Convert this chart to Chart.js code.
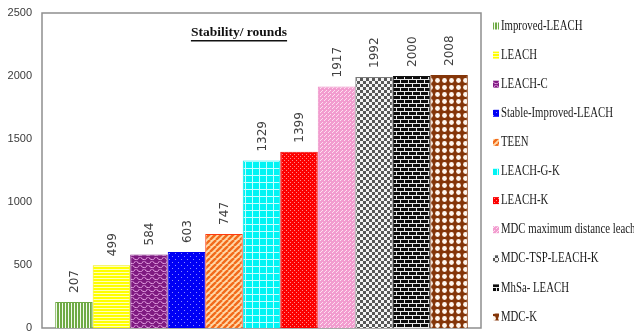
<!DOCTYPE html>
<html>
<head>
<meta charset="utf-8">
<script src="https://cdn.jsdelivr.net/npm/chart.js@4/dist/chart.umd.min.js"></script>
<style>
  html, body { margin: 0; padding: 0; background: #ffffff; }
  #wrap { width: 634px; height: 336px; position: relative; }
</style>
</head>
<body>
<div id="wrap"><canvas id="c" width="634" height="336"></canvas></div>
<script>
// Protocols compared
const categories = [
  'Improved-LEACH', 'LEACH', 'LEACH-C', 'Stable-Improved-LEACH', 'TEEN',
  'LEACH-G-K', 'LEACH-K', 'MDC maximum distance leach', 'MDC-TSP-LEACH-K',
  'MhSa- LEACH', 'MDC-K'
];
// Stability period, in rounds
const rounds = [207, 499, 584, 603, 747, 1329, 1399, 1917, 1992, 2000, 2008];
// Y axis tick labels
const yTicks = [0, 500, 1000, 1500, 2000, 2500];
const chartTitle = 'Stability/ rounds';

// ---- fill patterns -------------------------------------------------------
function tile(w, h, draw) {
  const cv = document.createElement('canvas');
  cv.width = w; cv.height = h;
  const g = cv.getContext('2d');
  draw(g, w, h);
  return document.getElementById('c').getContext('2d').createPattern(cv, 'repeat');
}

const patterns = [
  // vertical green lines
  tile(3, 3, (g) => { g.fillStyle = '#f4fbef'; g.fillRect(0, 0, 3, 3); g.fillStyle = '#6faa45'; g.fillRect(0, 0, 2, 3); }),
  // yellow with pale horizontal lines
  tile(3, 3, (g) => { g.fillStyle = '#ffff00'; g.fillRect(0, 0, 3, 3); g.fillStyle = '#ffffb8'; g.fillRect(0, 2, 3, 1); }),
  // purple scales
  tile(8, 8, (g) => {
    g.fillStyle = '#7e1a80'; g.fillRect(0, 0, 8, 8);
    g.strokeStyle = '#e9a6e6'; g.lineWidth = 1;
    g.beginPath(); g.arc(4, 4, 3.5, Math.PI * 0.1, Math.PI * 0.9); g.stroke();
    g.beginPath(); g.arc(0, 8, 3.5, Math.PI * 0.1, Math.PI * 0.9); g.stroke();
    g.beginPath(); g.arc(8, 8, 3.5, Math.PI * 0.1, Math.PI * 0.9); g.stroke();
    g.beginPath(); g.arc(0, 0, 3.5, Math.PI * 0.1, Math.PI * 0.9); g.stroke();
    g.beginPath(); g.arc(8, 0, 3.5, Math.PI * 0.1, Math.PI * 0.9); g.stroke();
  }),
  // blue with sparse light dots
  tile(6, 6, (g) => { g.fillStyle = '#0000f5'; g.fillRect(0, 0, 6, 6); g.fillStyle = '#8c8cff'; g.fillRect(1, 1, 1, 1); g.fillRect(4, 4, 1, 1); }),
  // orange diagonal stripes
  tile(6, 6, (g) => {
    g.fillStyle = '#ffd9a8'; g.fillRect(0, 0, 6, 6);
    g.strokeStyle = '#f26a1b'; g.lineWidth = 2.4;
    for (let k = -6; k <= 12; k += 6) { g.beginPath(); g.moveTo(k, 6); g.lineTo(k + 6, 0); g.stroke(); }
  }),
  // cyan grid
  tile(7, 7, (g) => { g.fillStyle = '#00f4f4'; g.fillRect(0, 0, 7, 7); g.fillStyle = '#c4ffff'; g.fillRect(0, 0, 7, 1); g.fillRect(0, 0, 1, 7); }),
  // red with dense dots
  tile(4, 4, (g) => { g.fillStyle = '#fc0000'; g.fillRect(0, 0, 4, 4); g.fillStyle = '#ff8a8a'; g.fillRect(0, 0, 1, 1); g.fillRect(2, 2, 1, 1); }),
  // pink with white flecks
  tile(4, 4, (g) => { g.fillStyle = '#f29ccf'; g.fillRect(0, 0, 4, 4); g.fillStyle = '#fde0f0'; g.fillRect(0, 0, 1, 1); g.fillRect(2, 2, 1, 1); g.fillRect(1, 3, 1, 1); }),
  // gray checkerboard
  tile(6, 6, (g) => { g.fillStyle = '#f4f4f4'; g.fillRect(0, 0, 6, 6); g.fillStyle = '#575757'; g.fillRect(0, 0, 3, 3); g.fillRect(3, 3, 3, 3); }),
  // black bricks
  tile(8, 8, (g) => {
    g.fillStyle = '#0c0c0c'; g.fillRect(0, 0, 8, 8);
    g.fillStyle = '#e8e8e8';
    g.fillRect(0, 3, 8, 1); g.fillRect(0, 7, 8, 1);
    g.fillRect(0, 0, 1, 3); g.fillRect(4, 4, 1, 3);
  }),
  // brown with white dots
  tile(7, 7, (g) => {
    g.fillStyle = '#843508'; g.fillRect(0, 0, 7, 7);
    g.fillStyle = '#fff6ee'; g.beginPath(); g.arc(3.5, 3.5, 2.4, 0, Math.PI * 2); g.fill();
  })
];
const edgeColors = ['#6faa45', '#f0f000', '#7e1a80', '#0000f0', '#ff3a10', '#00e8e8',
                    '#f00000', '#ef8fc8', '#7a7a7a', '#111111', '#843508'];

// ---- plugins ---------------------------------------------------------------
const frame = {
  id: 'frame',
  beforeDatasetsDraw(chart) {
    const { ctx, chartArea: a } = chart;
    ctx.save();
    ctx.strokeStyle = '#8e8e8e';
    ctx.lineWidth = 1.5;
    ctx.strokeRect(a.left, a.top, a.right - a.left, a.bottom - a.top);
    ctx.restore();
  }
};

const valueLabels = {
  id: 'valueLabels',
  afterDatasetsDraw(chart) {
    const ctx = chart.ctx;
    ctx.save();
    ctx.font = '12px "DejaVu Sans", sans-serif';
    ctx.fillStyle = '#404040';
    ctx.textAlign = 'left';
    ctx.textBaseline = 'middle';
    chart.data.datasets.forEach((ds, i) => {
      const bar = chart.getDatasetMeta(i).data[0];
      ctx.save();
      ctx.translate(bar.x + 1, bar.y - 9);
      ctx.rotate(-Math.PI / 2);
      ctx.fillText(String(ds.data[0]), 0, 0);
      ctx.restore();
    });
    ctx.restore();
  }
};

const titleText = {
  id: 'titleText',
  afterDraw(chart) {
    const { ctx, chartArea: a } = chart;
    const cx = a.left + 197, by = 36;
    ctx.save();
    ctx.font = 'bold 13.5px "Liberation Serif", "Times New Roman", serif';
    ctx.fillStyle = '#111111';
    ctx.textAlign = 'center';
    ctx.textBaseline = 'alphabetic';
    ctx.fillText(chartTitle, cx, by);
    const w = ctx.measureText(chartTitle).width;
    ctx.fillRect(cx - w / 2, by + 4, w, 1.5);
    ctx.restore();
  }
};

const sideLegend = {
  id: 'sideLegend',
  afterDraw(chart) {
    const ctx = chart.ctx;
    ctx.save();
    ctx.font = '14px "Liberation Serif", "Times New Roman", serif';
    ctx.textBaseline = 'middle';
    chart.data.datasets.forEach((ds, i) => {
      const y = 26 + i * 29.1;
      ctx.fillStyle = ds.backgroundColor;
      ctx.fillRect(493, y - 3.5, 6, 7);
      ctx.fillStyle = '#1a1a1a';
      ctx.save();
      ctx.translate(501, y);
      ctx.scale(0.77, 1);
      ctx.fillText(ds.label, 0, 0);
      ctx.restore();
    });
    ctx.restore();
  }
};

// ---- chart -----------------------------------------------------------------
const datasets = categories.map((name, i) => ({
  label: name,
  data: [rounds[i]],
  backgroundColor: patterns[i],
  borderColor: edgeColors[i],
  borderWidth: 1,
  categoryPercentage: 0.94,
  barPercentage: 1.0
}));

new Chart(document.getElementById('c'), {
  type: 'bar',
  data: { labels: [''], datasets },
  plugins: [frame, valueLabels, titleText, sideLegend],
  options: {
    responsive: false,
    animation: false,
    devicePixelRatio: 1,
    layout: { padding: { top: 13, right: 153, bottom: 0, left: 0 } },
    plugins: { legend: { display: false }, tooltip: { enabled: false }, title: { display: false } },
    scales: {
      x: {
        grid: { display: false, drawTicks: false },
        border: { display: false },
        ticks: { display: false },
        afterFit(scale) { scale.height = 8; scale.paddingLeft = 0; scale.paddingRight = 0; }
      },
      y: {
        min: 0,
        max: 2500,
        grid: { display: false, drawTicks: false },
        border: { display: false },
        afterBuildTicks(scale) { scale.ticks = yTicks.map(v => ({ value: v })); },
        afterFit(scale) { scale.width = 42; scale.paddingTop = 0; scale.paddingBottom = 0; },
        ticks: {
          padding: 10,
          color: '#3a3a3a',
          callback: (v) => String(v),
          font: { family: '"Liberation Sans Narrow", "Arial Narrow", sans-serif', size: 11 }
        }
      }
    }
  }
});
</script>
</body>
</html>
